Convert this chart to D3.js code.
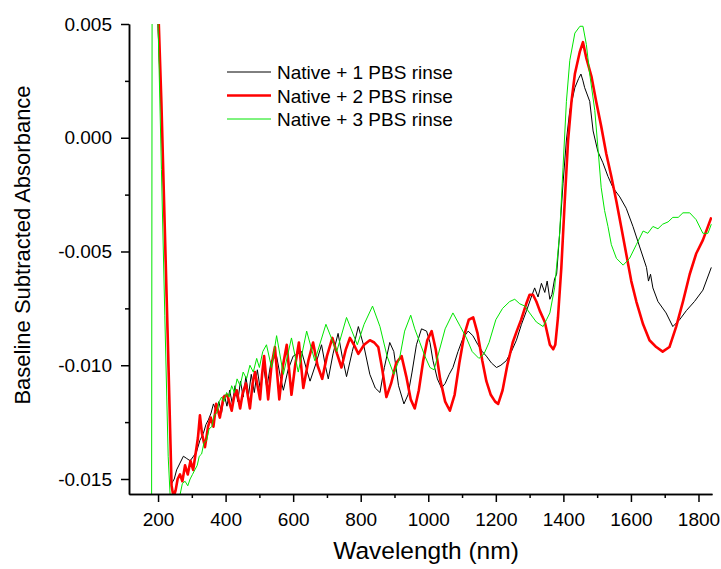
<!DOCTYPE html>
<html>
<head>
<meta charset="utf-8">
<script src="https://cdn.jsdelivr.net/npm/d3@7"></script>
<style>
  body { margin: 0; background: #fff; }
  text { font-family: "Liberation Sans", Arial, sans-serif; fill: #000; }
</style>
</head>
<body>
<svg id="chart" width="721" height="569"></svg>
<script>
// Spectra: [wavelength nm, baseline subtracted absorbance]
const rinse1 = [
  [180, 0.03], [190, 0.02], [200, 0.0048], [210, 0.0011], [220, -0.0044], [230, -0.0097], [240, -0.0152],
  [248, -0.0150], [255, -0.0146], [265, -0.0143], [275, -0.0140], [285, -0.0141], [295, -0.0142], [305, -0.0140],
  [314, -0.0138], [324, -0.0133], [334, -0.0130], [342, -0.0126], [349, -0.0124], [357, -0.0121], [364, -0.0117],
  [372, -0.0120], [380, -0.0116], [388, -0.0121], [396, -0.0113], [404, -0.0118], [412, -0.0111], [420, -0.0117],
  [428, -0.0109], [436, -0.0116], [444, -0.0107], [452, -0.0114], [460, -0.0105], [468, -0.0113], [476, -0.0104],
  [485, -0.0112], [494, -0.0102], [503, -0.0111], [512, -0.0100], [522, -0.0110], [535, -0.0098], [551, -0.0096],
  [562, -0.0105], [571, -0.0111], [585, -0.0102], [600, -0.0096], [625, -0.0094], [640, -0.0102], [650, -0.0107],
  [668, -0.0099], [684, -0.0091], [695, -0.0100], [704, -0.0106], [718, -0.0095], [733, -0.0086], [745, -0.0096],
  [758, -0.0105], [775, -0.0094], [793, -0.0083], [810, -0.0092], [827, -0.0104], [843, -0.0110], [857, -0.0112],
  [870, -0.0101], [886, -0.0090], [898, -0.0094], [912, -0.0109], [928, -0.0117], [940, -0.0113], [952, -0.0103],
  [965, -0.0091], [980, -0.0084], [995, -0.0085], [1005, -0.0090], [1014, -0.0098], [1027, -0.0106], [1039, -0.0110],
  [1050, -0.0108], [1062, -0.0104], [1073, -0.0101], [1088, -0.0094], [1103, -0.0088], [1118, -0.0085], [1132, -0.0087],
  [1147, -0.0091], [1160, -0.0094], [1172, -0.0096], [1187, -0.0099], [1202, -0.0101], [1215, -0.0100], [1231, -0.0098],
  [1246, -0.0094], [1261, -0.0089], [1276, -0.0082], [1291, -0.0076], [1305, -0.0070], [1315, -0.0066], [1325, -0.0070],
  [1335, -0.0064], [1345, -0.0068], [1352, -0.0063], [1360, -0.0071], [1366, -0.0069], [1374, -0.0062], [1380, -0.0060],
  [1389, -0.0042], [1399, -0.0020], [1409, -0.0001], [1419, 0.0012], [1434, 0.0022], [1445, 0.0026], [1452, 0.0028],
  [1458, 0.0025], [1463, 0.0022], [1478, 0.0016], [1488, 0.0003], [1502, -0.0006], [1517, -0.0011], [1532, -0.0017],
  [1547, -0.0022], [1567, -0.0026], [1586, -0.0031], [1606, -0.0039], [1626, -0.0048], [1646, -0.0057], [1652, -0.0063],
  [1658, -0.0060], [1665, -0.0066], [1680, -0.0072], [1704, -0.0077], [1724, -0.0083], [1744, -0.0080], [1764, -0.0076],
  [1788, -0.0072], [1813, -0.0067], [1838, -0.0057]
];

const rinse2 = [
  [180, 0.03], [190, 0.02], [200, 0.0060], [210, 0.0015], [220, -0.0040], [230, -0.0095], [240, -0.0153],
  [246, -0.0158], [252, -0.0155], [258, -0.0150], [265, -0.0148], [272, -0.0151], [280, -0.0144], [288, -0.0148],
  [296, -0.0142], [304, -0.0146], [312, -0.0138], [318, -0.0132], [324, -0.0122], [330, -0.0130], [339, -0.0136],
  [348, -0.0127], [356, -0.0123], [364, -0.0127], [372, -0.0117], [383, -0.0123], [394, -0.0114], [405, -0.0113],
  [418, -0.0120], [425, -0.0114], [433, -0.0111], [443, -0.0119], [451, -0.0112], [460, -0.0108], [472, -0.0119],
  [480, -0.0108], [487, -0.0103], [502, -0.0115], [508, -0.0104], [514, -0.0096], [526, -0.0115], [536, -0.0100],
  [546, -0.0092], [559, -0.0115], [570, -0.0100], [581, -0.0091], [595, -0.0113], [606, -0.0100], [617, -0.0090],
  [630, -0.0110], [645, -0.0098], [659, -0.0090], [672, -0.0100], [686, -0.0106], [700, -0.0096], [716, -0.0088],
  [730, -0.0095], [743, -0.0101], [756, -0.0093], [768, -0.0088], [780, -0.0091], [793, -0.0095], [810, -0.0091],
  [827, -0.0089], [840, -0.0090], [852, -0.0092], [864, -0.0102], [876, -0.0114], [890, -0.0108], [905, -0.0099],
  [921, -0.0096], [935, -0.0105], [948, -0.0115], [960, -0.0119], [972, -0.0111], [985, -0.0098], [997, -0.0089],
  [1010, -0.0085], [1022, -0.0093], [1035, -0.0106], [1050, -0.0116], [1064, -0.0120], [1078, -0.0113], [1092, -0.0099],
  [1106, -0.0087], [1120, -0.0080], [1133, -0.0079], [1146, -0.0086], [1160, -0.0098], [1172, -0.0107], [1185, -0.0113],
  [1198, -0.0116], [1207, -0.0117], [1220, -0.0111], [1234, -0.0100], [1250, -0.0090], [1262, -0.0085], [1275, -0.0080],
  [1290, -0.0073], [1300, -0.0069], [1310, -0.0069], [1320, -0.0072], [1330, -0.0076], [1345, -0.0081], [1360, -0.0091],
  [1370, -0.0093], [1376, -0.0091], [1384, -0.0079], [1394, -0.0057], [1404, -0.0028], [1414, -0.0001], [1424, 0.0016],
  [1434, 0.0028], [1449, 0.0038], [1458, 0.0042], [1468, 0.0035], [1483, 0.0027], [1497, 0.0016], [1512, 0.0005],
  [1527, -0.0007], [1542, -0.0017], [1557, -0.0028], [1571, -0.0039], [1586, -0.0051], [1601, -0.0063], [1616, -0.0072],
  [1636, -0.0082], [1655, -0.0089], [1675, -0.0092], [1694, -0.0094], [1714, -0.0092], [1734, -0.0083], [1754, -0.0072],
  [1774, -0.0060], [1793, -0.0051], [1813, -0.0045], [1838, -0.0035]
];

const rinse3 = [
  [180, -0.03], [184, 0.03], [195, 0.02], [200, 0.0050], [210, -0.0014], [220, -0.0078], [230, -0.0140],
  [236, -0.0158], [245, -0.0160], [255, -0.0160], [265, -0.0157], [272, -0.0152], [280, -0.0151], [288, -0.0153],
  [295, -0.0150], [302, -0.0148], [309, -0.0146], [316, -0.0144], [322, -0.0140], [329, -0.0139], [336, -0.0134],
  [344, -0.0133], [351, -0.0128], [359, -0.0127], [366, -0.0122], [374, -0.0121], [381, -0.0116], [388, -0.0114],
  [395, -0.0116], [403, -0.0112], [410, -0.0114], [418, -0.0109], [426, -0.0112], [434, -0.0106], [443, -0.0109],
  [452, -0.0103], [462, -0.0106], [472, -0.0100], [482, -0.0103], [492, -0.0097], [500, -0.0101], [510, -0.0094],
  [521, -0.0091], [536, -0.0101], [551, -0.0087], [571, -0.0104], [595, -0.0088], [615, -0.0103], [640, -0.0085],
  [664, -0.0098], [697, -0.0082], [729, -0.0094], [758, -0.0079], [790, -0.0091], [810, -0.0082], [835, -0.0074],
  [857, -0.0083], [878, -0.0096], [898, -0.0104], [915, -0.0097], [930, -0.0085], [948, -0.0078], [960, -0.0084],
  [975, -0.0090], [990, -0.0096], [1005, -0.0101], [1017, -0.0102], [1030, -0.0095], [1050, -0.0084], [1073, -0.0077],
  [1095, -0.0083], [1113, -0.0088], [1130, -0.0094], [1150, -0.0097], [1165, -0.0095], [1180, -0.0090], [1200, -0.0080],
  [1220, -0.0075], [1241, -0.0072], [1256, -0.0071], [1271, -0.0073], [1286, -0.0074], [1300, -0.0077], [1320, -0.0081],
  [1340, -0.0083], [1350, -0.0080], [1360, -0.0077], [1374, -0.0066], [1389, -0.0042], [1399, -0.0013], [1409, 0.0016],
  [1419, 0.0034], [1434, 0.0046], [1449, 0.0049], [1458, 0.0049], [1468, 0.0041], [1478, 0.0028], [1493, 0.0012],
  [1502, -0.0004], [1512, -0.0022], [1522, -0.0032], [1532, -0.0039], [1542, -0.0047], [1557, -0.0053], [1577, -0.0056],
  [1596, -0.0053], [1616, -0.0047], [1636, -0.0041], [1650, -0.0042], [1665, -0.0039], [1680, -0.0040], [1694, -0.0038],
  [1710, -0.0037], [1724, -0.0035], [1740, -0.0035], [1754, -0.0033], [1774, -0.0033], [1793, -0.0036], [1813, -0.0042],
  [1828, -0.0042], [1838, -0.0038]
];

const seriesNames = ['Native + 1 PBS rinse', 'Native + 2 PBS rinse', 'Native + 3 PBS rinse'];
const xMajorTicks = [200, 400, 600, 800, 1000, 1200, 1400, 1600, 1800];
const xMinorTicks = [300, 500, 700, 900, 1100, 1300, 1500, 1700];
const yMajorTicks = [-0.015, -0.010, -0.005, 0.000, 0.005];
const yMinorTicks = [-0.0125, -0.0075, -0.0025, 0.0025];

const styles = [
  { color: '#000000', width: 1 },
  { color: '#ff0000', width: 2.6 },
  { color: '#00e600', width: 1 }
];

const svg = d3.select('#chart');
const plot = { left: 129, right: 712, top: 24, bottom: 494 };

const x = d3.scaleLinear().domain([114, 1840]).range([plot.left, plot.right]);
const y = d3.scaleLinear().domain([-0.01566, 0.005]).range([plot.bottom, plot.top]);

svg.append('clipPath').attr('id', 'clip')
  .append('rect')
    .attr('x', plot.left).attr('y', plot.top)
    .attr('width', plot.right - plot.left).attr('height', plot.bottom - plot.top);

// Spectra
const line = d3.line().x(d => x(d[0])).y(d => y(d[1]));
const lines = svg.append('g').attr('clip-path', 'url(#clip)');
[rinse1, rinse2, rinse3].forEach((data, i) => {
  lines.append('path')
    .datum(data)
    .attr('fill', 'none')
    .attr('stroke', styles[i].color)
    .attr('stroke-width', styles[i].width)
    .attr('stroke-linejoin', 'round')
    .attr('d', line);
});

// Axes (major + minor ticks, outward)
const styleAxis = g => {
  g.select('.domain').attr('stroke-width', 1.5);
  g.selectAll('.tick line').attr('stroke-width', 1.5);
  g.selectAll('.tick text').style('font-size', '19px').attr('fill', '#000');
};

svg.append('g')
  .attr('transform', `translate(0,${plot.bottom})`)
  .call(d3.axisBottom(x).tickValues(xMinorTicks).tickSize(4).tickSizeOuter(0).tickFormat(''))
  .call(styleAxis);
svg.append('g')
  .attr('transform', `translate(0,${plot.bottom})`)
  .call(d3.axisBottom(x).tickValues(xMajorTicks).tickSize(8).tickSizeOuter(0).tickPadding(11)
    .tickFormat(d3.format('d')))
  .call(styleAxis);

svg.append('g')
  .attr('transform', `translate(${plot.left},0)`)
  .call(d3.axisLeft(y).tickValues(yMinorTicks).tickSize(4).tickSizeOuter(0).tickFormat(''))
  .call(styleAxis);
svg.append('g')
  .attr('transform', `translate(${plot.left},0)`)
  .call(d3.axisLeft(y).tickValues(yMajorTicks).tickSize(8).tickSizeOuter(0).tickPadding(9)
    .tickFormat(d => d.toFixed(3)))
  .call(styleAxis);

// Axis titles
svg.append('text')
  .attr('x', 426)
  .attr('y', 559)
  .attr('text-anchor', 'middle')
  .style('font-size', '24.5px')
  .text('Wavelength (nm)');

svg.append('text')
  .attr('transform', `translate(30,245) rotate(-90)`)
  .attr('text-anchor', 'middle')
  .style('font-size', '22px')
  .text('Baseline Subtracted Absorbance');

// Legend
const legend = svg.append('g').attr('transform', 'translate(227,72)');
seriesNames.forEach((name, i) => {
  const row = legend.append('g').attr('transform', `translate(0,${i * 23.5})`);
  row.append('line')
    .attr('x1', 0).attr('x2', 44)
    .attr('stroke', styles[i].color)
    .attr('stroke-width', styles[i].width);
  row.append('text')
    .attr('x', 50).attr('y', 7)
    .style('font-size', '19px')
    .text(name);
});
</script>
</body>
</html>
